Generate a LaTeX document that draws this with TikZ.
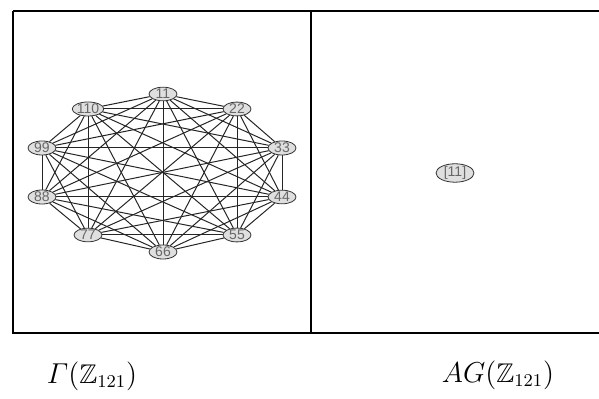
\documentclass[tikz,border=0pt]{standalone}
\usepackage{fontspec}
\usepackage{amssymb}
\usepackage{amsmath}
\newfontfamily\vertexFont{Liberation Sans}
\usetikzlibrary{shapes.geometric}
\usetikzlibrary{backgrounds}

\begin{document}
\begin{tikzpicture}[x=0.5pt,y=-0.5pt] % zero divisor graph and its annihilator graph
		\tikzset{vertex/.style={ellipse, draw=black!80, fill=gray!25, line width=0.4pt, inner sep=0pt, minimum width=14pt, minimum height=6pt, font=\vertexFont\fontsize{7}{7}\selectfont, text=black!60}}
		\tikzset{edge/.style={draw=black!85, line width=0.5pt}}
		\tikzset{frame/.style={draw=black, line width=1pt}}
		
		\useasboundingbox (0,0) rectangle (599,399);
		
		% table frame
		\draw[frame] (13,11) -- (599,11);
		\draw[frame] (13,11) -- (13,333) -- (599,333);
		\draw[frame] (311,11) -- (311,333);
		
		% vertices of the left graph
		\node[vertex] (v11) at (163,94) {11};
		\node[vertex] (v22) at (237,109) {22};
		\node[vertex] (v33) at (282,148) {33};
		\node[vertex] (v44) at (282,197) {44};
		\node[vertex] (v55) at (237,235) {55};
		\node[vertex] (v66) at (163,252) {66};
		\node[vertex] (v77) at (88,235) {77};
		\node[vertex] (v88) at (42,197) {88};
		\node[vertex] (v99) at (42,148) {99};
		\node[vertex] (v110) at (88,109) {110};
		
		% every pair is joined
		\begin{scope}[on background layer]
			\foreach \a [count=\i] in {11,22,...,110}
				\foreach \b [count=\j] in {11,22,...,110}
					{\ifnum\i<\j \draw[edge] (v\a) -- (v\b); \fi}
		\end{scope}
		
		% the one class on the right
		\node[vertex, minimum width=19pt, minimum height=9pt, font=\vertexFont\fontsize{7}{7}\selectfont] (c11) at (455,173) {[11]};
		
		% captions
		\node[font=\fontsize{13.5}{15}\selectfont] (gammaLabel) at (92,376) {$\mathnormal{\Gamma}(\mathbb{Z}_{121})$};
		\node[font=\fontsize{13.5}{15}\selectfont] (agLabel) at (498,375) {$AG(\mathbb{Z}_{121})$};
\end{tikzpicture}
\end{document}
